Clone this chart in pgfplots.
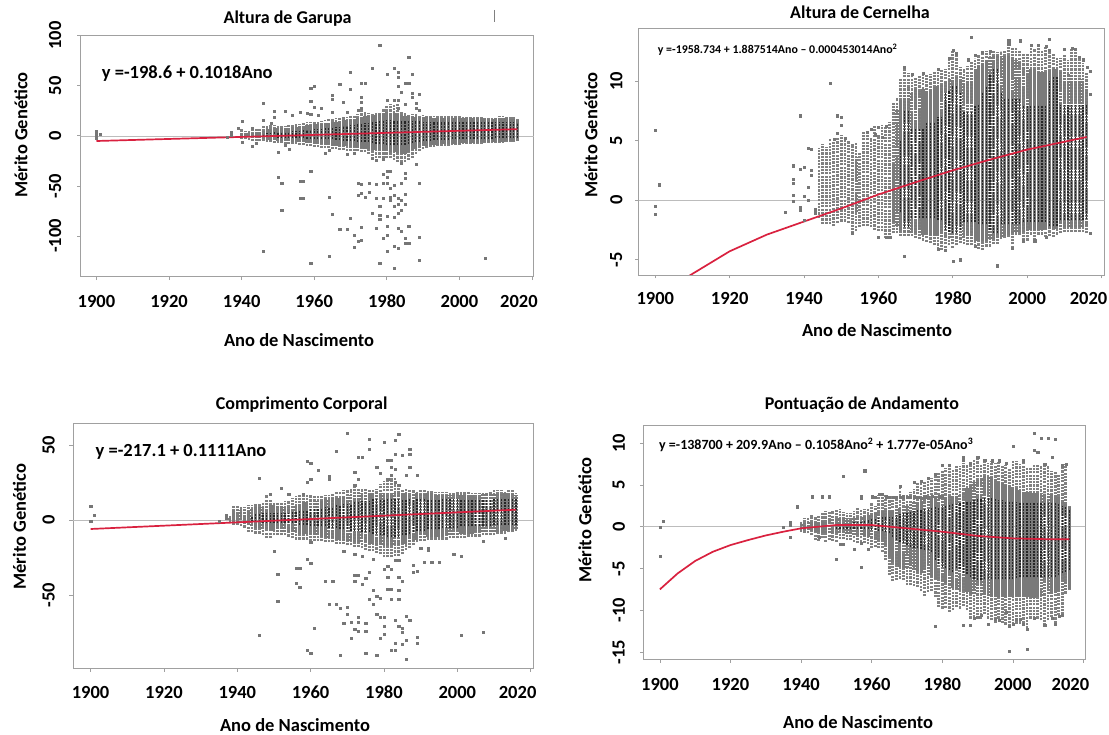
\documentclass[border=0pt]{standalone}
\usepackage{fontspec}
\setmainfont{Carlito}
\usepackage{pgfplots}
\usepackage{pgfplotstable}
\pgfplotsset{compat=1.18}
\definecolor{ptgray}{HTML}{767676}
\definecolor{sparsegray}{HTML}{808080}
\definecolor{densegray}{HTML}{7A7A7A}
\definecolor{coregray}{HTML}{262626}
\definecolor{fitred}{HTML}{D9213F}
\definecolor{boxgray}{HTML}{A0A0A0}
% yr: sparse a-b, dense c-d, core e-f
\pgfplotstableread{
yr a b c d e f
1940 -3 7 -1 3 0 0
1941 -3 5 -1 3 0 0
1942 -4 5 -1 3 0 0
1943 -5 7 -2 3 0 0
1944 -5 8 -2 4 0 0
1945 -5 8 -2 4 0 0
1946 -5 10 -3 5 -1 2
1947 -6 10 -4 7 -1 3
1948 -6 11 -4 7 -1 3
1949 -7 11 -4 8 -1 4
1950 -7 10 -5 8 -2 4
1951 -7 10 -5 8 -2 4
1952 -8 10 -5 8 -2 4
1953 -8 11 -5 8 -2 4
1954 -8 11 -6 9 -2 5
1955 -8 12 -6 9 -2 5
1956 -9 12 -6 10 -2 5
1957 -9 13 -6 10 -2 6
1958 -10 14 -7 11 -3 6
1959 -10 14 -7 11 -3 6
1960 -11 15 -8 12 -3 7
1961 -11 15 -8 12 -3 7
1962 -12 15 -8 12 -3 7
1963 -12 16 -9 13 -3 8
1964 -12 17 -9 13 -3 8
1965 -13 17 -10 14 -3 8
1966 -13 18 -10 14 -4 9
1967 -14 18 -10 15 -4 9
1968 -14 19 -10 16 -5 10
1969 -15 19 -10 16 -5 10
1970 -15 20 -11 17 -5 11
1971 -15 20 -11 17 -5 11
1972 -15 22 -12 18 -6 12
1973 -16 28 -12 19 -6 12
1974 -16 24 -13 20 -6 13
1975 -18 23 -13 20 -6 13
1976 -20 22 -14 20 -7 14
1977 -22 23 -14 21 -8 14
1978 -22 24 -15 22 -8 15
1979 -22 27 -15 23 -8 15
1980 -22 30 -15 24 -9 16
1981 -22 32 -16 23 -9 16
1982 -24 32 -16 23 -9 15
1983 -26 32 -17 22 -9 15
1984 -26 24 -18 21 -9 15
1985 -26 23 -18 20 -9 15
1986 -24 22 -16 20 -8 15
1987 -22 22 -14 20 -7 15
1988 -18 22 -13 19 -6 15
1989 -15 21 -12 19 -6 15
1990 -13 21 -10 19 -5 14
1991 -12 20 -10 19 -5 14
1992 -11 20 -9 19 -5 14
1993 -11 20 -9 18 -4 14
1994 -10 20 -9 18 -4 14
1995 -10 20 -8 18 -4 14
1996 -10 20 -8 18 -4 14
1997 -10 20 -8 18 -4 14
1998 -9 20 -8 18 -3 14
1999 -9 20 -8 18 -3 14
2000 -9 20 -8 18 -3 14
2001 -8 19 -7 18 -3 14
2002 -8 19 -7 18 -3 14
2003 -8 19 -7 18 -3 14
2004 -8 19 -7 18 -3 14
2005 -8 19 -7 18 -3 14
2006 -8 19 -6 18 -3 14
2007 -7 19 -6 17 -3 14
2008 -7 19 -6 17 -3 14
2009 -7 19 -6 17 -3 14
2010 -7 19 -6 18 -2 14
2011 -7 20 -6 18 -2 14
2012 -7 20 -6 18 -2 14
2013 -6 20 -5 18 -2 14
2014 -6 19 -5 17 -2 14
2015 -6 19 -5 17 -2 14
2016 -5 18 -5 16 -2 13
}\pone
\pgfplotstableread{
yr a b c d e f
1944 -1.5 4.4 -1 -1 0 0
1945 -2 4.7 0 0 0 0
1946 -2 4.5 0 0 0 0
1947 -2 5.1 0 0 0 0
1948 -2.2 5 0 0 0 0
1949 -1.9 5.3 0 0 0 0
1950 -1.8 5.5 0 0 0 0
1951 -1.8 5.2 0 0 0 0
1952 -1.9 5 0 0 0 0
1953 -2.8 4.7 0 0 0 0
1954 -2.6 4.8 -1 3.6 0 0
1955 -2.3 4 0 0 0 0
1956 -2.2 5.8 0 0 0 0
1957 -2.2 5.6 0 0 0 0
1958 -2.3 5.2 0 0 0 0
1959 -2.5 6.2 0 0 0 0
1960 -2.6 5.5 0 0 0 0
1961 -2.6 6.3 0 0 0 0
1962 -3.2 6.1 0 0 0 0
1963 -3.2 6.6 0 0 0 0
1964 -2.8 8.2 -1.8 3 0 0
1965 -2.8 8.6 -2.2 7.6 0 0
1966 -3 10.2 -2.5 8.4 -1 5
1967 -3 11.1 -2.7 9 -2.3 7.5
1968 -3 10.7 -2.7 9.5 -2.3 7.5
1969 -3 10.5 -2.8 9 -1.5 6
1970 -3.2 10.3 -2.8 9.3 -1.5 6
1971 -3.3 10.4 -2.8 9.2 -1.5 6
1972 -3.4 10.6 -2.9 9.3 -1.5 6
1973 -3.5 10.5 -2.9 9.2 -1.5 6.5
1974 -3.6 10.6 -3 9.3 -1.5 6.5
1975 -3.8 10.8 -3 9.5 -1.5 6.5
1976 -4.1 10.8 -3 9.6 -1.7 7
1977 -4.2 11 -3.1 9.7 -1.7 7
1978 -4 11 -3.1 10 -2.5 9
1979 -3.8 11.9 -3.2 10.2 -2.7 9.2
1980 -4 12.6 -3.2 10.3 -2.8 9.6
1981 -3.8 12.3 -3.2 10.3 -2.8 9.6
1982 -3.6 11.2 -3.3 10.2 -2.5 9
1983 -3.7 11 -3.2 10.3 -1.8 7.5
1984 -3.8 11.3 -3.3 10.3 -1.8 7.5
1985 -3.8 11.6 -3.3 10.5 -1.8 7.5
1986 -3.9 11.9 -3.4 11 -1.8 8
1987 -4.1 12.2 -3.4 11.3 -2 8
1988 -4.2 12.4 -3.4 11.5 -2 9
1989 -3.9 12.5 -3.4 11.8 -2 9.5
1990 -3.9 12.5 -3.3 12 -2.5 10.5
1991 -3.7 12.5 -3.3 12.1 -2.8 11
1992 -3.7 12.4 -3.2 12.1 -2.8 11
1993 -3.3 12.5 -3.1 12.1 -2 9
1994 -3.2 12.5 -3 12.1 -2 8.5
1995 -3.1 13.1 -2.9 12.1 -2 8.5
1996 -4 12.9 -2.8 12 -2 8.5
1997 -2.9 12.8 -2.7 11.8 -2 8.5
1998 -2.9 12.5 -2.7 11.6 -2 8.5
1999 -3.4 12.3 -2.7 11.2 -1.8 8
2000 -3.4 12.3 -2.6 11 -1.8 8
2001 -2.9 13 -2.5 11 -1.8 8
2002 -3.4 12.7 -2.5 11 -1.8 8
2003 -2.9 13 -2.5 10.8 -1.8 8
2004 -2.9 12.6 -2.5 10.8 -1.8 8
2005 -3.1 12.9 -2.4 10.8 -1.8 8
2006 -3 12.6 -2.4 10.9 -2.2 10
2007 -3.1 12.3 -2.4 11 -2.2 10.3
2008 -2.9 12 -2.4 11 -2.2 10.3
2009 -2.8 11.9 -2.3 10.8 -1.7 8
2010 -2.7 12.2 -2.3 10.8 -1.7 8
2011 -2.7 11.8 -2.3 10.6 -1.7 8
2012 -2.7 12.8 -2.3 10.5 -1.7 8
2013 -2.7 12.7 -2.3 10.4 -1.7 8
2014 -2.7 11.9 -2.3 10.3 -1.7 8
2015 -2.7 11.5 -2.3 10.2 -1.7 8
2016 -2.8 10.7 -2.2 10 -1.6 8
}\ptwo
\pgfplotstableread{
yr a b c d e f
1938 -1 3 0 2 0 0
1939 -3 10 -1 7 0 0
1940 -3 10 -2 7 0 0
1941 -4 9 -2 7 0 0
1942 -5 9 -2 7 0 0
1943 -8 10 -3 7 0 0
1944 -8 10 -4 8 -1 3
1945 -9 11 -5 9 -1 4
1946 -9 11 -5 9 -1 4
1947 -10 12 -6 9 -2 5
1948 -12 17 -6 9 -2 5
1949 -12 14 -7 10 -2 5
1950 -10 12 -7 10 -2 5
1951 -10 12 -8 10 -2 5
1952 -10 12 -8 10 -2 5
1953 -10 13 -8 9 -2 5
1954 -11 13 -8 9 -2 5
1955 -12 15 -8 10 -2 6
1956 -13 16 -8 10 -2 6
1957 -13 17 -9 11 -3 6
1958 -13 18 -9 12 -3 7
1959 -13 17 -9 12 -3 7
1960 -14 17 -10 13 -4 8
1961 -14 16 -10 13 -4 8
1962 -14 16 -10 13 -4 8
1963 -14 16 -11 13 -4 8
1964 -15 17 -11 14 -4 9
1965 -15 17 -12 14 -5 9
1966 -15 18 -12 15 -5 9
1967 -16 19 -13 15 -5 10
1968 -16 19 -13 15 -6 10
1969 -16 20 -14 16 -6 11
1970 -17 20 -14 16 -6 11
1971 -17 21 -14 17 -7 11
1972 -18 22 -15 17 -7 12
1973 -18 21 -15 18 -7 12
1974 -19 21 -15 18 -8 13
1975 -20 21 -15 18 -8 13
1976 -21 20 -16 18 -8 13
1977 -21 20 -16 18 -9 14
1978 -22 21 -17 18 -9 14
1979 -23 24 -17 18 -10 14
1980 -25 26 -17 18 -10 14
1981 -25 27 -17 18 -11 14
1982 -25 28 -17 18 -11 14
1983 -24 28 -17 18 -11 14
1984 -24 24 -17 18 -11 14
1985 -23 21 -16 18 -10 14
1986 -20 21 -16 18 -10 14
1987 -19 20 -15 18 -9 14
1988 -17 20 -14 18 -8 14
1989 -15 19 -13 18 -7 14
1990 -14 20 -12 18 -7 14
1991 -14 20 -12 18 -7 14
1992 -13 20 -11 18 -6 14
1993 -13 20 -11 18 -6 14
1994 -13 19 -11 17 -6 14
1995 -13 19 -11 17 -6 14
1996 -13 19 -11 17 -5 14
1997 -13 19 -10 17 -5 14
1998 -12 18 -10 17 -5 14
1999 -12 18 -10 17 -5 14
2000 -12 19 -10 17 -5 14
2001 -12 19 -9 17 -4 14
2002 -12 19 -9 17 -4 14
2003 -11 19 -9 17 -4 14
2004 -11 18 -9 17 -4 14
2005 -11 18 -8 17 -4 14
2006 -11 18 -8 17 -4 14
2007 -10 18 -8 18 -4 14
2008 -10 18 -8 18 -4 14
2009 -10 19 -8 18 -4 14
2010 -10 20 -8 18 -3 14
2011 -9 20 -8 18 -3 14
2012 -9 20 -8 18 -3 14
2013 -9 19 -7 18 -3 14
2014 -8 20 -7 18 -3 14
2015 -8 20 -7 18 -3 14
2016 -7 18 -6 17 -3 14
}\pthree
\pgfplotstableread{
yr a b c d e f
1940 -.6 .6 -.3 .3 0 0
1941 -.7 1 -.4 .4 0 0
1942 -.8 1 -.4 .5 0 0
1943 -1 1.4 -.5 .5 0 0
1944 -1.6 1.2 -.6 .6 0 0
1945 -1.7 1.4 -.6 .6 0 0
1946 -1.4 1.6 -.7 .7 0 0
1947 -1.8 1.9 -.8 .8 0 0
1948 -1.6 1.8 -.8 .8 0 0
1949 -1.7 1.9 -.8 .9 0 0
1950 -1.8 2 -.8 .9 -.3 .3
1951 -1.5 2.1 -.8 1 -.3 .3
1952 -1.5 1.8 -.8 1 -.3 .3
1953 -1.6 1.6 -.9 1 -.3 .4
1954 -1.6 1.6 -.9 1 -.3 .4
1955 -1.8 1.9 -1 1.1 -.3 .5
1956 -2 2.2 -1 1.2 -.3 .6
1957 -2.2 2 -1 1.2 -.3 .6
1958 -2 2.1 -1.1 1.3 -.3 .7
1959 -2.1 2.2 -1.2 1.4 -.3 .8
1960 -2.6 2.8 -1.4 1.6 -.4 .9
1961 -2.4 2.5 -1.5 1.6 -.4 1
1962 -2.6 3.8 -1.6 1.8 -.5 1
1963 -3 3.8 -1.8 1.9 -.5 1.1
1964 -4 3.8 -2.2 1.9 -.6 1.2
1965 -5.8 3.7 -3.6 1.9 -.8 1.2
1966 -6.5 3.7 -4.2 2 -1.2 1.3
1967 -6.4 3.7 -4.6 2.1 -1.6 1.4
1968 -6.2 4.6 -4.8 2.2 -1.8 1.5
1969 -6.4 3.8 -5 2.3 -2 1.6
1970 -7 3.8 -5 2.5 -2.2 1.7
1971 -7 4.2 -5.1 2.7 -2.4 1.8
1972 -7.1 4.5 -5.2 2.9 -2.5 1.9
1973 -7.2 5.2 -5.3 3 -2.6 2
1974 -7.7 5.3 -5.5 3.1 -2.7 2
1975 -8.3 5.4 -5.6 3.3 -2.8 2.1
1976 -7.8 5.5 -5.8 3.4 -2.8 2.1
1977 -7.7 5.8 -6 3.4 -3 2.2
1978 -8.4 6.3 -6.2 3.5 -4 2.3
1979 -9.6 6.4 -6.3 3.5 -4.5 2.3
1980 -9.8 6.6 -6.5 3.5 -4.8 2.5
1981 -9.7 7 -6.7 3.6 -5 2.5
1982 -10.2 7.4 -7 3.7 -5.2 2.6
1983 -10 6.8 -7.3 3.7 -5.4 2.7
1984 -9.6 7.2 -7.5 3.7 -5 2.7
1985 -9.8 7.3 -7.6 3.8 -5.1 2.8
1986 -9.5 7.6 -7.7 4 -5.5 3
1987 -10 7.4 -7.8 4.6 -5.7 3
1988 -11 7.5 -8 5 -6 3
1989 -11.2 8.1 -8.1 5.4 -6.2 3.2
1990 -11 8.2 -8.2 5.6 -6.4 3.3
1991 -11 7.5 -8.2 5.8 -6.4 3.3
1992 -10.5 7.8 -8.2 6 -6.3 3.4
1993 -11 7.6 -8.3 6 -6.3 3.4
1994 -11.2 7.9 -8.4 5.9 -6.3 3.4
1995 -11.5 7.6 -8.4 5.7 -6.3 3.3
1996 -11 7.7 -8.4 5.4 -6.3 3.2
1997 -11.5 7.2 -8.4 5.2 -6.2 3.2
1998 -11.7 7.4 -8.4 5 -6.2 3.1
1999 -11.9 7 -8.4 5 -6.2 3
2000 -11.7 8 -8.4 4.8 -6.2 3
2001 -11.6 7.8 -8.4 4.6 -6.1 3
2002 -11.6 7.5 -8.4 4.4 -6 2.9
2003 -11.9 7.7 -8.4 4.2 -6 2.9
2004 -12.2 7 -8.4 4.1 -6 2.9
2005 -11 7.1 -8.5 4 -6 2.9
2006 -11 7.4 -8.5 4 -6 2.9
2007 -11 7.4 -8.4 4 -6 2.9
2008 -11.2 7.2 -8.3 4 -6 2.9
2009 -11.8 7.5 -8.2 4 -6 2.9
2010 -11.2 7.3 -8.1 3.9 -6 2.9
2011 -10.8 6.6 -8 3.9 -6 2.8
2012 -11.5 6.5 -7.9 3.8 -6 2.8
2013 -10.6 6.2 -7.8 3.6 -5.8 2.7
2014 -10.5 7 -7.7 3.2 -5.6 2.5
2015 -8 7.5 -7.6 2.9 -5.4 2.3
2016 -7.6 2.6 -7.4 2.4 -5.2 2
}\pfour
\pgfplotsset{
 every axis/.append style={scale only axis, anchor=south west, clip=true,
  axis line style={boxgray,line width=.7pt},
  tick style={boxgray,line width=.7pt}, tick align=outside, major tick length=3.5pt,
  xtick pos=bottom, ytick pos=left,
  xtick={1900,1920,1940,1960,1980,2000,2020},
  tick label style={font=\fontsize{18.5}{20}\selectfont\bfseries, black},
  label style={font=\fontsize{18.5}{20}\selectfont\bfseries, black, inner sep=0pt},
  title style={font=\fontsize{18}{20}\selectfont\bfseries, black, anchor=center, yshift=-7pt, inner sep=0pt},
  xlabel={Ano de Nascimento}, ylabel={Mérito Genético},
  yticklabel style={rotate=90, anchor=center},
  xticklabel style={anchor=center},
 },
 outl/.style={only marks, mark=square*, mark size=1.05pt, mark options={fill=ptgray, draw=ptgray, line width=.2pt}, forget plot},
 fit/.style={fitred, line width=1.7pt, no marks, forget plot},
 zero/.style={boxgray!70, line width=.5pt, no marks, forget plot},
 lay/.style={draw=none, mark=none, forget plot, error bars/.cd, y dir=plus, y explicit, error mark=none, error bar style={#1}},
}
\newcommand{\cloud}[1]{%
\addplot[lay={sparsegray, line width=2.7pt, dash pattern=on 2.2pt off 1.1pt}]
 table[x=yr, y=a, y error plus expr=\thisrow{b}-\thisrow{a}] {#1};
\addplot[lay={densegray, line width=3.1pt, dash pattern=on 2.5pt off .5pt}]
 table[x=yr, y=c, y error plus expr=\thisrow{d}-\thisrow{c}] {#1};
\addplot[lay={coregray, line width=1.2pt, dash pattern=on 2pt off 1pt}]
 table[x=yr, y=e, y error plus expr=\thisrow{f}-\thisrow{e}] {#1};
}
\newcommand{\lastlab}{\makebox[0pt]{\hspace*{-26pt}2020}}
\begin{document}
\begin{tikzpicture}[x=1pt,y=1pt]
\path[use as bounding box] (0pt,0pt) rectangle (1109pt,735pt);
\draw[gray,line width=.7pt] (494pt,725pt) -- (494pt,713pt);
% --- Altura de Garupa
\begin{axis}[at={(80.7pt,458.3pt)}, width=453.1pt, height=241pt,
 xmin=1895.65, xmax=2020.5, ymin=-140.7, ymax=100,
 xticklabels={1900,1920,1940,1960,1980,2000,\lastlab},
 ytick={-100,-50,0,50,100}, yticklabels={-100,-50,0,50,100},
 xticklabel style={yshift=-21pt}, yticklabel style={yshift=22pt},
 title={Altura de Garupa}, title style={at={(axis description cs:.4566,1.0735)}},
 xlabel style={at={(axis description cs:.4818,-.2627)},anchor=center},
 ylabel style={at={(axis description cs:-.1318,.588)},anchor=center},
]
\addplot[zero] coordinates {(1890,0)(2030,0)};
\cloud{\pone}
\addplot[outl] coordinates {
(1900,5)(1900,2)(1900,-2)(1900,0)(1901,2)(1937,4)(1937,1)(1937,2)(1936,-1)(1939,8)(1940,15)(1943,8)(1946,16)(1948,13)
(1978,91)(1986,79)(1976,68)(1970,64)(1982,68)(1980,62)(1983,64)(1983,59)(1987,62)(1967,52)(1973,53)(1974,53)(1960,50)(1959,48)(1970,47)
(1985,53)(1986,53)(1984,44)(1983,50)(1987,43)(1987,39)(1989,42)(1965,41)(1965,37)(1973,39)(1973,34)(1946,33)(1959,35)(1968,34)(1980,36)(1982,36)(1983,36)
(1985,32)(1988,33)(1960,29)(1962,28)(1965,24)(1969,24)(1949,25)(1952,25)(1956,24)(1973,28)(1972,26)(1983,28)(1988,28)(1989,26)(1958,23)(1959,22)(1961,21)(1954,21)(1949,19)
(1943,-10)(1940,-6)(1944,-7)(1950,-16)(1952,-9)(1953,-13)(1963,-17)(1964,-14)(1969,-18)(1971,-17)(1976,-22)(1977,-24)(1979,-23)(1984,-27)(1988,-28)
(1950,-41)(1951,-47)(1956,-45)(1957,-45)(1959,-35)(1956,-62)(1957,-62)(1951,-74)(1946,-115)(1959,-127)(1964,-120)(1964,-61)(1965,-78)(1967,-93)(1969,-93)(1970,-82)(1971,-99)(1971,-111)(1972,-105)(1973,-104)(1973,-91)
(1972,-47)(1973,-48)(1972,-59)(1973,-57)(1974,-61)(1975,-56)(1975,-47)(1977,-48)(1976,-77)(1977,-92)(1977,-62)(1978,-70)(1978,-79)(1978,-83)(1978,-127)(1979,-62)(1979,-102)(1980,-99)(1980,-115)(1980,-90)(1980,-80)
(1982,-132)(1982,-110)(1983,-112)(1982,-81)(1983,-77)(1984,-74)(1983,-92)(1984,-95)(1985,-102)(1985,-107)(1986,-90)(1986,-107)(1989,-101)(1989,-124)(1989,-47)(1979,-47)(1980,-47)(1979,-38)(1980,-35)(1981,-35)(1980,-41)
(1981,-52)(1981,-61)(1981,-64)(1982,-59)(1982,-49)(1983,-62)(1982,-70)(1983,-68)(1984,-47)(1985,-37)(1985,-42)(1985,-58)(1985,-68)(1984,-64)(2007,-122)
};
\addplot[fit] coordinates {(1900,-5.18)(2016,6.63)};
\node[anchor=west,inner sep=0pt,font=\fontsize{18.5}{20}\selectfont\bfseries] at (axis description cs:.0463,.841) {y =-198.6 + 0.1018Ano};
\end{axis}
% --- Altura de Cernelha
\begin{axis}[at={(638.8pt,460pt)}, width=465.7pt, height=246.7pt,
 xmin=1895.57, xmax=2020.8, ymin=-6.29, ymax=14.43,
 xticklabels={1900,1920,1940,1960,1980,2000,\lastlab},
 ytick={-5,0,5,10}, yticklabels={-5,0,5,10},
 xticklabel style={yshift=-20pt}, yticklabel style={yshift=19pt},
 title={Altura de Cernelha}, title style={at={(axis description cs:.475,1.0673)}},
 xlabel style={at={(axis description cs:.5115,-.223)},anchor=center},
 ylabel style={at={(axis description cs:-.1026,.5675)},anchor=center},
]
\addplot[zero] coordinates {(1890,0)(2030,0)};
\cloud{\ptwo}
\addplot[outl] coordinates {
(1900,5.9)(1901,1.3)(1900,-.5)(1900,-1.2)(1947,9.8)(1939,7.1)(1949,7.1)(1950,7)(1950,6.3)(1935,-1)
(1937,2.9)(1937,1.8)(1937,1.4)(1937,.4)(1937,-.1)(1939,2.6)(1939,-.6)(1939,-.8)(1940,2.8)(1940,.3)(1940,-1.7)(1941,4.4)(1942,4.3)(1942,2.5)(1942,2.1)(1941,1.1)(1941,0)(1943,-.8)(1943,-1.1)
(1948,5.1)(1951,5.2)(1949,5.6)(1958,6)(1960,6.1)(1962,6.2)(1959,5.5)(1961,5.3)(1957,5.7)
(1985,13.7)(1995,13.4)(1995,13.1)(1998,13.4)(2006,13.5)(1980,12.6)(1981,12.3)(1979,11.9)(1967,11.2)(2001,13)(2003,13)(2005,12.9)(2006,12.6)(2012,12.8)(2010,12.7)(2013,12.7)
(1988,12.4)(1990,12.5)(1986,12.2)(1984,11.8)(1976,11)(1972,10.7)(1969,10.6)(2015,11.8)(2016,11.2)(2017,10.8)(2017,8.9)(2017,-2.8)(2014,12)
(1967,-4.7)(1980,-5.1)(1982,-5)(1992,-5.5)(1996,-4)(1976,-4.1)(1978,-4.2)(1986,-3.9)(1999,-3.4)(2002,-3.4)(2005,-3.1)(1960,-3.1)(1962,-3.1)(1963,-3.1)(1953,-2.8)
};
\addplot[fit] coordinates {(1905,-7)(1909,-6.38)(1920,-4.3)(1930,-2.9)(1940,-1.8)(1950,-.7)(1960,.47)(1970,1.5)(1980,2.5)(1990,3.4)(2000,4.24)(2010,4.9)(2016,5.3)};
\node[anchor=west,inner sep=0pt,font=\fontsize{11.9}{13}\selectfont\bfseries] at (axis description cs:.0406,.912) {y =-1958.734 + 1.887514Ano -- 0.000453014Ano\textsuperscript{2}};
\end{axis}
% --- Comprimento Corporal
\begin{axis}[at={(73pt,66.7pt)}, width=460pt, height=245pt,
 xmin=1895.2, xmax=2020.65, ymin=-98.9, ymax=64.5,
 xticklabels={1900,1920,1940,1960,1980,2000,\lastlab},
 ytick={-50,0,50}, yticklabels={-50,0,50},
 xticklabel style={yshift=-20.7pt}, yticklabel style={yshift=21pt},
 title={Comprimento Corporal}, title style={at={(axis description cs:.497,1.0788)}},
 xlabel style={at={(axis description cs:.4826,-.2314)},anchor=center},
 ylabel style={at={(axis description cs:-.1167,.578)},anchor=center},
]
\addplot[zero] coordinates {(1890,0)(2030,0)};
\cloud{\pthree}
\addplot[outl] coordinates {
(1900,9)(1900,-1)(1901,3)(1937,3)(1937,1)(1935,-1)
(1970,58)(1976,54)(1980,52)(1983,53)(1984,57)(1976,47)(1967,46)(1987,47)(1987,44)(1983,44)(1985,43)(1973,42)(1974,42)(1959,39)(1960,38)(1981,40)(1982,40)(1962,33)(1972,32)(1978,35)(1982,35)(1983,34)(1987,35)(1946,28)(1965,29)(1965,27)(1979,31)(1982,30)(1986,30)(1989,30)(1973,27)(1960,27)(1959,25)(1952,21)(1972,23)(1984,23)(1981,27)(1983,25)(1949,17)(1954,17)(1958,17)
(1950,-21)(1960,-15)(1951,-36)(1956,-32)(1957,-32)(1959,-26)(1960,-29)(1956,-42)(1957,-45)(1951,-54)(1946,-77)(1961,-72)(1959,-87)(1960,-89)(1968,-90)(1964,-41)(1966,-41)(1965,-56)(1967,-56)(1968,-59)(1970,-58)(1969,-69)(1970,-63)(1971,-68)(1973,-65)(1973,-68)(1972,-73)(1973,-74)(1971,-79)(1975,-69)(1975,-74)(1975,-89)(1978,-90)
(1972,-37)(1973,-37)(1972,-41)(1974,-43)(1975,-39)(1976,-35)(1969,-21)(1972,-23)(1974,-24)(1977,-26)(1977,-47)(1976,-53)(1978,-51)(1979,-52)(1977,-56)(1978,-63)(1979,-65)(1980,-65)(1980,-71)(1980,-76)(1979,-79)(1983,-67)(1984,-71)(1985,-72)(1985,-75)(1986,-64)(1987,-67)(1986,-80)(1985,-83)(1983,-82)(1982,-87)(1983,-87)(1986,-93)(1989,-78)(1989,-82)(2001,-77)(2007,-75)
(1980,-33)(1981,-31)(1982,-33)(1983,-27)(1984,-27)(1981,-38)(1981,-46)(1982,-46)(1984,-38)(1985,-41)(1984,-47)(1982,-53)(1984,-53)(1988,-30)(1989,-34)(1988,-35)(1990,-19)(1992,-19)(1992,-20)(1991,-28)(1993,-28)(1995,-28)(1999,-23)(2001,-24)(2007,-14)(2013,-12)
};
\addplot[fit] coordinates {(1900,-6)(2016,6.88)};
\node[anchor=west,inner sep=0pt,font=\fontsize{18.5}{20}\selectfont\bfseries] at (axis description cs:.0487,.884) {y =-217.1 + 0.1111Ano};
\end{axis}
% --- Pontuação de Andamento
\begin{axis}[at={(643.3pt,75.7pt)}, width=441.9pt, height=234.3pt,
 xmin=1895.3, xmax=2020.5, ymin=-15.86, ymax=12.16,
 xticklabels={1900,1920,1940,1960,1980,2000,\lastlab},
 ytick={-15,-10,-5,0,5,10}, yticklabels={-15,-10,-5,0,5,10},
 xticklabel style={yshift=-21.7pt}, yticklabel style={yshift=21pt},
 title={Pontuação de Andamento}, title style={at={(axis description cs:.4945,1.0896)}},
 xlabel style={at={(axis description cs:.4859,-.2663)},anchor=center},
 ylabel style={at={(axis description cs:-.1319,.5945)},anchor=center},
]
\addplot[zero] coordinates {(1890,0)(2030,0)};
\cloud{\pfour}
\addplot[outl] coordinates {
(1900,0)(1901,.7)(1900,-3.5)(1935,0)(1937,.6)(1937,.2)(1937,-1.3)(1939,2.4)(1943,3.6)(1946,3.6)(1948,3.6)(1952,6.1)(1958,6.7)(1957,3.6)(1957,3.4)(1960,3.6)(1950,-3.9)(1957,-4.8)(1951,-2.1)(1952,-2.1)(1955,-2.7)(1957,-2)(1959,-2.7)(1945,-1.2)
(1999,-14.9)(2004,-14.6)(1978,-11.9)(2006,11.2)(2008,10.6)(2010,10.6)(2012,10.5)(2000,9.6)(2006,9.2)(2007,8.9)(2011,8.3)(1986,8.3)(1990,8.3)
(1961,3.5)(1962,3.9)(1963,3.9)(1964,3.6)(1965,3.5)(1966,3.5)(1967,3.5)(1968,3.5)(1969,3.6)(1970,3.5)(1971,3.5)(1972,3.6)(1973,3.5)(1974,3.4)(1975,3.6)(1976,3.5)(1977,3.7)(1978,3.5)(1979,3.6)(1980,3.7)(1968,4.9)
(1978,6.3)(1980,7.4)(1982,7.4)(1976,5.8)(1974,5.5)(1972,5.3)(1986,8)(1988,7.6)(1992,8)(1994,7.9)(1996,7.9)(1998,7.6)(2003,7.9)(2009,7.5)(2014,7.3)(2015,7.5)(2016,2.2)
(1986,-11.8)(1988,-11.8)(1989,-10.9)(1990,-10.8)(1991,-10.6)(1993,-11.6)(1995,-11)(1996,-11.2)(1998,-10.2)(1999,-11.9)(2000,-11.6)(2001,-11)(2002,-11)(2003,-11.7)(2004,-12.2)(2009,-11.8)(2006,-10.9)(2011,-10.9)(2012,-11.7)(2013,-10.7)(2014,-10.6)
};
\addplot[fit] coordinates {(1900,-7.5)(1905,-5.6)(1910,-4.1)(1915,-3)(1920,-2.2)(1925,-1.6)(1930,-1.05)(1935,-.6)(1940,-.2)(1950,.2)(1960,.2)(1970,-.2)(1980,-.6)(1990,-1.1)(2000,-1.4)(2010,-1.5)(2016,-1.5)};
\node[anchor=west,inner sep=0pt,font=\fontsize{14}{15}\selectfont\bfseries] at (axis description cs:.0355,.9146) {y =-138700 + 209.9Ano -- 0.1058Ano\textsuperscript{2} + 1.777e-05Ano\textsuperscript{3}};
\end{axis}
\end{tikzpicture}
\end{document}
